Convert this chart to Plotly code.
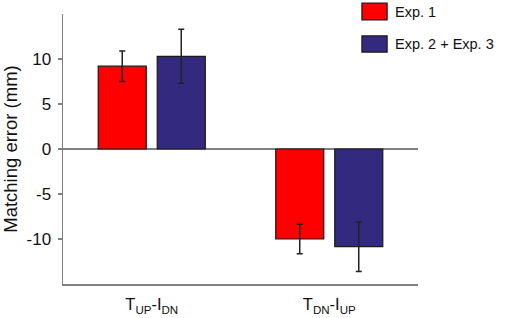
import plotly.graph_objects as go

categories = ["T<sub>UP</sub>-I<sub>DN</sub>", "T<sub>DN</sub>-I<sub>UP</sub>"]
series_names = ["Exp. 1", "Exp. 2 + Exp. 3"]
exp1_values = [9.2, -10.0]
exp1_errors = [1.7, 1.65]
exp23_values = [10.3, -10.85]
exp23_errors = [3.0, 2.75]
ytick_vals = [-10, -5, 0, 5, 10]
ytick_text = ["-10", "-5", "0", "5", "10"]

colors = ["#FF0000", "#33297F"]
FONT = "Liberation Sans"

fig = go.Figure()
for name, vals, errs, col in [
    (series_names[0], exp1_values, exp1_errors, colors[0]),
    (series_names[1], exp23_values, exp23_errors, colors[1]),
]:
    fig.add_trace(go.Bar(
        x=categories, y=vals, name=name, showlegend=False,
        marker=dict(color=col, line=dict(color="#1a1a1a", width=1.2)),
        error_y=dict(type="data", array=errs, visible=True,
                     color="#222222", thickness=1.5, width=3),
    ))

# legend drawn as shapes + text
leg_y = [(1.040, 0.978), (0.919, 0.859)]
for (y1, y0), name, col in zip(leg_y, series_names, colors):
    fig.add_shape(type="rect", xref="paper", yref="paper",
                  x0=0.842, x1=0.913, y0=y0, y1=y1,
                  fillcolor=col, line=dict(color="#1a1a1a", width=1.2))
    fig.add_annotation(xref="paper", yref="paper", x=0.93, y=(y0 + y1) / 2,
                       text=name, showarrow=False, xanchor="left", yanchor="middle",
                       font=dict(family=FONT, size=14.5, color="#111"))

fig.update_layout(
    width=510, height=318,
    margin=dict(l=63, r=92, t=14, b=34, autoexpand=False),
    paper_bgcolor="white", plot_bgcolor="white",
    barmode="group", bargap=0.335, bargroupgap=0.186,
    font=dict(family=FONT, size=16, color="#111"),
)
fig.update_xaxes(
    range=[-0.5, 1.5], showline=True, linecolor="#808080", linewidth=1.5,
    ticks="", tickfont=dict(family=FONT, size=16.5), showgrid=False,
    ticklabelstandoff=5,
    zeroline=False, mirror=False, automargin=False,
)
fig.update_yaxes(
    range=[-15, 15], tickvals=ytick_vals, ticktext=ytick_text,
    showline=True, linecolor="#808080", linewidth=1.5,
    ticks="outside", ticklen=4, tickcolor="#808080", tickwidth=1.5,
    tickfont=dict(family=FONT, size=17), showgrid=False,
    ticklabelstandoff=3,
    zeroline=True, zerolinecolor="#808080", zerolinewidth=1.5,
    automargin=False,
    title=dict(text="Matching error (mm)", font=dict(family=FONT, size=18.5), standoff=6),
)

fig.write_html("out.html", config={"displayModeBar": False, "staticPlot": True},
               post_script="document.body.style.margin='0';")
